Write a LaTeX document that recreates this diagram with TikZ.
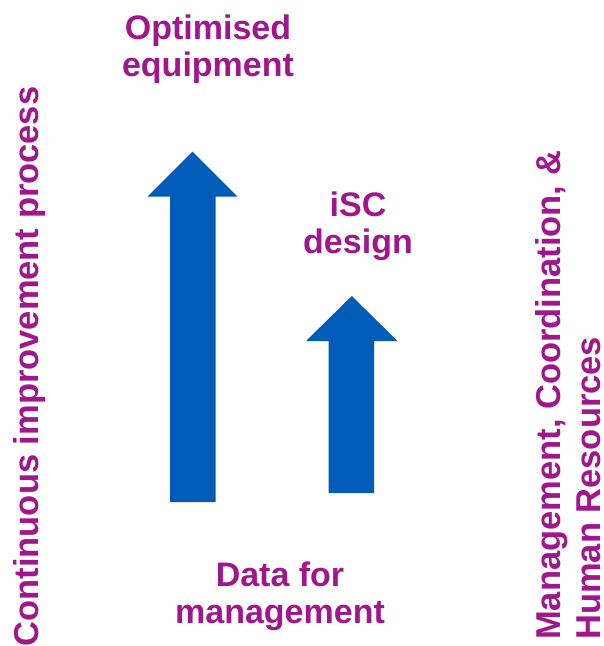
\documentclass[tikz,border=0pt]{standalone}
\usepackage{fontspec}
\setmainfont{Liberation Sans}
\definecolor{lbl}{HTML}{A0168C}
\definecolor{arr}{HTML}{005CB8}
\begin{document}
\begin{tikzpicture}[x=1pt,y=-1pt,
  lab/.style={text=lbl,font=\fontsize{34}{37}\selectfont\bfseries,inner sep=0pt,align=center},
  sidelab/.style={text=lbl,font=\fontsize{34.5}{40}\selectfont\bfseries,inner sep=0pt,rotate=90},
  bigarrow/.style={fill=arr,draw=none}]
\useasboundingbox[fill=white] (0,0) rectangle (604,646);
% arrows
\fill[bigarrow] (170,502) -- (215.5,502) -- (215.5,196.7) -- (237.5,196.7) -- (192.5,151.7) -- (147.3,196.7) -- (170,196.7) -- cycle;
\fill[bigarrow] (328.5,493) -- (374,493) -- (374,341) -- (397.5,341) -- (351.8,296) -- (306,341) -- (328.5,341) -- cycle;
% labels
\node[lab] (opt) at (208,49.5) {Optimised\\equipment};
\node[lab] (isc) at (358,226) {iSC\\design};
\node[lab] (data) at (280,596.5) {Data for\\management};
\node[sidelab] (cip) at (30,366.5) {Continuous improvement process};
\node[sidelab,anchor=west,align=left] (mgmt) at (568,640) {Management, Coordination, \&\\Human Resources};
\end{tikzpicture}
\end{document}
